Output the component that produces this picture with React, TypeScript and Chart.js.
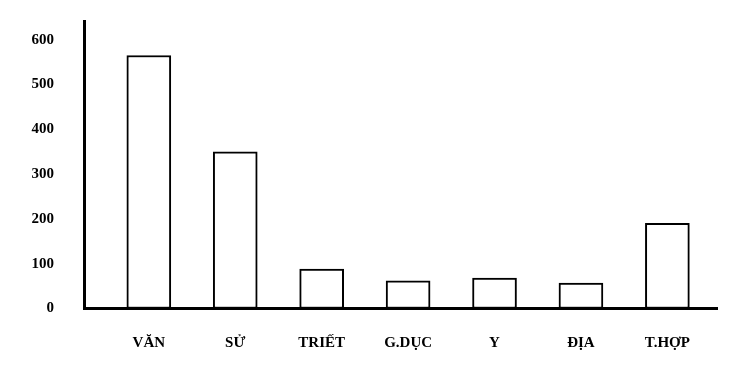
import React, { useEffect, useRef } from "react";
import { Chart, registerables } from "chart.js";

Chart.register(...registerables);

const categories = ["VĂN", "SỬ", "TRIẾT", "G.DỤC", "Y", "ĐỊA", "T.HỢP"];
const values = [565, 350, 88, 62, 68, 57, 190];
const yTickValues = [0, 100, 200, 300, 400, 500, 600];

const tickFont = { family: "'Liberation Serif', 'Times New Roman', serif", size: 15, weight: "bold" as const };

export default function App() {
  const ref = useRef<HTMLCanvasElement>(null);

  useEffect(() => {
    document.body.style.margin = "0";
    const chart = new Chart(ref.current as HTMLCanvasElement, {
      type: "bar",
      data: {
        datasets: [
          {
            data: values.map((v, i) => ({ x: i, y: v })),
            backgroundColor: "#ffffff",
            borderColor: "#000000",
            borderWidth: 2,
            barThickness: 44,
            borderSkipped: false,
          },
        ],
      },
      options: {
        animation: false,
        responsive: false,
        maintainAspectRatio: false,
        layout: { padding: { top: 21, right: 29.5, left: 0, bottom: 0 } },
        plugins: { legend: { display: false }, tooltip: { enabled: false } },
        scales: {
          x: {
            type: "linear",
            offset: false,
            min: -0.75,
            max: 6.58,
            grid: { display: false, drawTicks: false },
            border: { display: true, color: "#000000", width: 3 },
            afterBuildTicks: (s: any) => {
              s.ticks = categories.map((_, i) => ({ value: i }));
            },
            afterFit: (s: any) => {
              s.height = 73.5;
              s.paddingLeft = 0;
              s.paddingRight = 0;
            },
            ticks: {
              autoSkip: false,
              maxRotation: 0,
              padding: 26,
              color: "#000000",
              font: tickFont,
              callback: (v: any) => categories[v as number] ?? "",
            },
          },
          y: {
            type: "linear",
            min: 0,
            max: 642,
            grid: { display: false, drawTicks: false },
            border: { display: true, color: "#000000", width: 3 },
            afterBuildTicks: (s: any) => {
              s.ticks = yTickValues.map((v) => ({ value: v }));
            },
            afterFit: (s: any) => {
              s.width = 84;
              s.paddingTop = 0;
              s.paddingBottom = 0;
            },
            ticks: {
              padding: 30,
              color: "#000000",
              font: tickFont,
            },
          },
        },
      },
    });
    return () => chart.destroy();
  }, []);

  return <canvas ref={ref} width={747} height={382} style={{ display: "block" }} />;
}
